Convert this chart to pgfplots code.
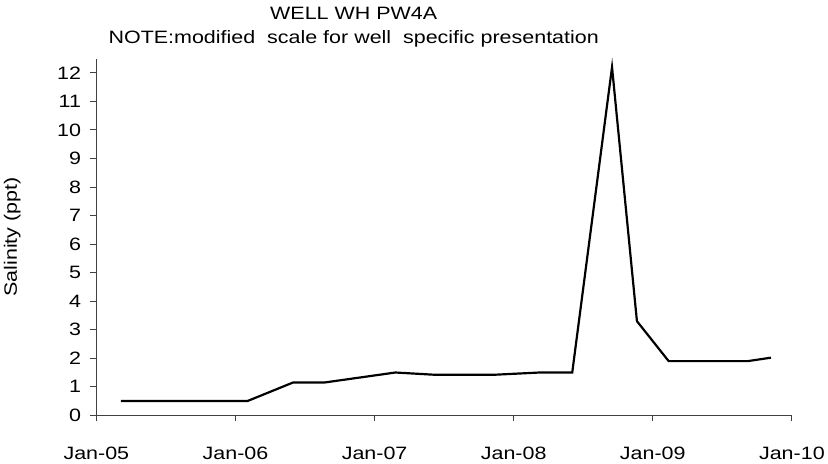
\documentclass[border=0pt]{standalone}
\usepackage{fontspec}
\setmainfont{Liberation Sans}[FakeStretch=1.2]
\usepackage{pgfplots}
\pgfplotsset{compat=1.18}

\newcommand\chartfont{\fontsize{18}{22}\selectfont}

\begin{document}
\begin{tikzpicture}
\begin{axis}[
    scale only axis,
    width=700pt, height=359pt,
    xmin=2005, xmax=2010,
    ymin=0, ymax=12.5,
    axis lines*=left,
    axis line style={draw=black!75, line width=1pt},
    xtick={2005,2006,2007,2008,2009,2010},
    xticklabels={Jan-05,Jan-06,Jan-07,Jan-08,Jan-09,Jan-10},
    ytick={0,1,2,3,4,5,6,7,8,9,10,11,12},
    tick align=outside,
    major tick length=6pt,
    tick style={draw=black!75, line width=1pt},
    every tick label/.append style={font=\chartfont},
    /pgf/number format/assume math mode=true,
    xticklabel style={anchor=north, yshift=-22pt},
    yticklabel style={anchor=east, xshift=-6pt},
    ylabel={Salinity (ppt)},
    ylabel style={font=\chartfont, at={(axis description cs:-0.121,0.5)}, anchor=center},
    clip=false,
]
\addplot[black, line width=2.2pt] coordinates {
    (2005.176,0.5)(2006.086,0.5)(2006.414,1.15)(2006.64,1.15)
    (2007.15,1.5)(2007.436,1.42)(2007.855,1.42)(2008.186,1.5)
    (2008.421,1.5)(2008.707,12.2)(2008.886,3.3)(2009.114,1.9)
    (2009.684,1.9)(2009.85,2.02)
};
\coordinate (O) at (rel axis cs:0,0);
\node[font=\chartfont] at (rel axis cs:0.37,1.128) {WELL WH PW4A};
\node[font=\chartfont] at (rel axis cs:0.37,1.056) {NOTE:modified\ \ scale for well\ \ specific presentation};
\end{axis}
\path (O) ++(-97pt,-48pt) rectangle ++(828pt,466pt);
\end{tikzpicture}
\end{document}
